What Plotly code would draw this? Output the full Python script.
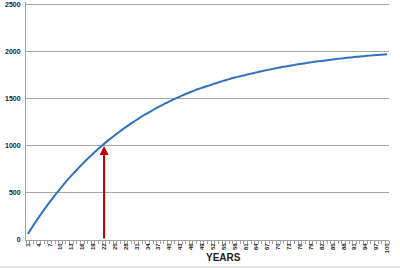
import plotly.graph_objects as go

years = list(range(1, 101))
values = [
    63, 124, 183, 240, 296, 350, 402, 453, 502, 550,
    596, 641, 684, 726, 767, 807, 846, 883, 919, 955,
    989, 1022, 1054, 1085, 1115, 1144, 1173, 1200, 1227, 1253,
    1278, 1303, 1326, 1349, 1371, 1393, 1414, 1434, 1454, 1473,
    1492, 1510, 1527, 1544, 1560, 1576, 1591, 1605, 1618, 1631,
    1644, 1657, 1669, 1682, 1694, 1705, 1716, 1727, 1737, 1745,
    1754, 1764, 1773, 1782, 1791, 1799, 1807, 1815, 1823, 1831,
    1838, 1845, 1852, 1858, 1865, 1871, 1877, 1883, 1889, 1894,
    1899, 1904, 1909, 1914, 1919, 1923, 1928, 1932, 1937, 1941,
    1945, 1949, 1953, 1956, 1960, 1963, 1966, 1969, 1972, 1975,
]
x_ticks = list(range(1, 101, 3))
y_ticks = [0, 500, 1000, 1500, 2000, 2500]
marked_year = 22
marked_value = 1000
x_title = "YEARS"

fig = go.Figure()
fig.add_trace(go.Scatter(
    x=years, y=values, mode="lines",
    line=dict(color="#2f72bd", width=2, simplify=False, shape="spline", smoothing=0.6),
    hoverinfo="skip", showlegend=False, cliponaxis=False,
))

fig.add_annotation(
    x=marked_year, y=marked_value, ax=marked_year, ay=0,
    xref="x", yref="y", axref="x", ayref="y",
    showarrow=True, arrowhead=2, arrowsize=0.9, arrowwidth=2,
    arrowcolor="#c00000", text="",
)

fig.add_annotation(
    text=x_title, xref="paper", yref="paper",
    x=0.545, y=-0.074, xanchor="center", yanchor="middle",
    showarrow=False,
    font=dict(family="Liberation Sans", size=10, color="#222222", weight="bold"),
)

fig.add_shape(
    type="line", xref="paper", yref="paper",
    x0=-0.08, x1=1.04, y0=-0.113, y1=-0.113,
    line=dict(color="#d0d0d0", width=1),
)

fig.update_layout(
    width=400, height=268,
    margin=dict(l=26, r=11, t=2, b=28),
    paper_bgcolor="white", plot_bgcolor="white",
    showlegend=False,
)
fig.update_xaxes(
    range=[0.5, 100.5],
    tickmode="array", tickvals=x_ticks, ticktext=[str(v) for v in x_ticks],
    tickangle=-90, ticks="", ticklen=0,
    tickfont=dict(family="Liberation Sans", size=6, color="#222222", weight="bold"),
    showgrid=False, zeroline=False,
    showline=True, linecolor="#a0a0a0", linewidth=1,
    minor=dict(ticks="outside", tick0=0.5, dtick=1, ticklen=3, tickcolor="#a0a0a0", showgrid=False),
)
fig.update_yaxes(
    range=[0, 2530],
    tickmode="array", tickvals=y_ticks,
    tickfont=dict(family="Liberation Sans", size=7, color="#222222", weight="bold"),
    showgrid=True, gridcolor="#a6a6a6", gridwidth=1,
    zeroline=False,
    showline=True, linecolor="#a0a0a0", linewidth=1,
    ticks="outside", ticklen=3, tickcolor="rgba(0,0,0,0)",
)

fig.write_html("out.html")
